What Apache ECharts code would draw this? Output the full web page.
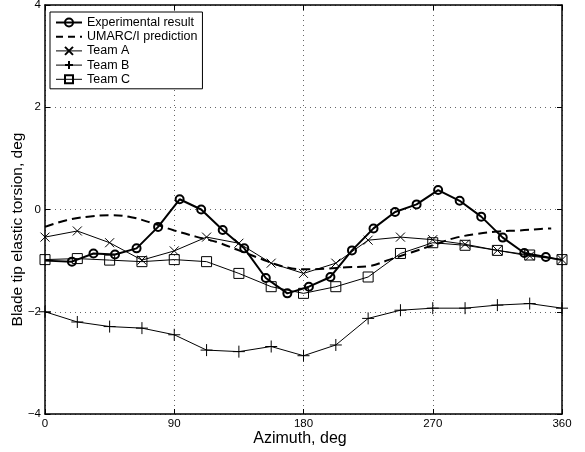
<!DOCTYPE html>
<html>
<head>
<meta charset="utf-8">
<script src="https://cdn.jsdelivr.net/npm/echarts@6/dist/echarts.min.js"></script>
<style>
  html, body { margin: 0; padding: 0; background: #fff; }
  #chart { width: 585px; height: 452px; }
</style>
</head>
<body>
<div id="chart"></div>
<script>
// Azimuth positions (deg) and elastic torsion values (deg)
var expAz = [0, 18.75, 33.75, 48.75, 63.75, 78.75, 93.75, 108.75, 123.75, 138.75, 153.75, 168.75,
             183.75, 198.75, 213.75, 228.75, 243.75, 258.75, 273.75, 288.75, 303.75, 318.75, 333.75, 348.75, 360];
var expVal = [-1.0, -1.02, -0.86, -0.88, -0.76, -0.34, 0.20, 0.0, -0.40, -0.76, -1.34, -1.64,
              -1.51, -1.32, -0.80, -0.37, -0.05, 0.10, 0.38, 0.17, -0.14, -0.55, -0.85, -0.93, -0.99];

var umarcAz = [0, 15, 30, 45, 60, 75, 90, 105, 120, 135, 150, 165, 180, 195, 210, 225, 240,
               255, 270, 285, 300, 315, 330, 345, 352.5];
var umarcVal = [-0.34, -0.21, -0.14, -0.11, -0.15, -0.27, -0.41, -0.53, -0.64, -0.80, -0.96, -1.11,
                -1.17, -1.16, -1.13, -1.11, -0.98, -0.84, -0.70, -0.56, -0.48, -0.43, -0.41, -0.38, -0.37];

var teamAz = [0, 22.5, 45, 67.5, 90, 112.5, 135, 157.5, 180, 202.5, 225, 247.5, 270, 292.5, 315, 337.5, 360];
var teamAVal = [-0.54, -0.42, -0.65, -0.99, -0.81, -0.54, -0.66, -1.05, -1.25, -1.05, -0.60,
                -0.54, -0.59, -0.68, -0.80, -0.91, -0.98];
var teamBVal = [-2.0, -2.2, -2.29, -2.32, -2.45, -2.75, -2.78, -2.68, -2.86, -2.65, -2.13,
                -1.97, -1.93, -1.93, -1.87, -1.84, -1.93];
var teamCVal = [-0.98, -0.96, -0.99, -1.02, -0.98, -1.02, -1.25, -1.51, -1.64, -1.51, -1.32,
                -0.86, -0.65, -0.70, -0.80, -0.89, -0.98];

var xTicks = [0, 90, 180, 270, 360];
var yTicks = [-4, -2, 0, 2, 4];

function pairs(xs, ys) {
  return xs.map(function (x, i) { return [x, ys[i]]; });
}

var FONT = 'Liberation Sans';
var CROSS = 'path://M0,0L10,10M10,0L0,10';
var PLUS = 'path://M5,0L5,10M0,5L10,5';
var HOLLOW = 'rgba(255,255,255,0)';

// Experimental points at the plot edges are drawn without a marker
var expData = pairs(expAz, expVal).map(function (p, i) {
  if (i === 0 || i === expAz.length - 1) {
    return { value: p, symbol: 'none' };
  }
  return p;
});

var chart = echarts.init(document.getElementById('chart'), null, { renderer: 'canvas' });

var axisCommon = {
  type: 'value',
  axisLine: { show: true, onZero: false, lineStyle: { color: '#000', width: 1.5 } },
  axisTick: { show: true, inside: true, length: 5, lineStyle: { color: '#000', width: 1 } },
  splitLine: { show: false },
  axisLabel: { show: false }
};

var gridDots = { show: true, lineStyle: { color: '#666', type: [1, 4], width: 1 } };

chart.setOption({
  animation: false,
  backgroundColor: '#fff',
  textStyle: { fontFamily: FONT },
  grid: { left: 45, right: 23, top: 5, bottom: 38, show: false, containLabel: false, outerBoundsMode: 'none' },
  legend: {
    left: 50, top: 12,
    orient: 'vertical',
    backgroundColor: '#fff',
    borderColor: '#000',
    borderWidth: 1,
    borderRadius: 0,
    padding: [4, 5, 3, 5],
    itemWidth: 26,
    itemHeight: 10,
    itemGap: 1.2,
    textStyle: { fontFamily: FONT, fontSize: 12.5, color: '#000' },
    data: [
      { name: 'Experimental result', lineStyle: { width: 2 } },
      { name: 'UMARC/I prediction', lineStyle: { width: 2, type: [7, 5] },
        itemStyle: { color: HOLLOW, borderWidth: 0, opacity: 0 } },
      { name: 'Team A', lineStyle: { width: 1 } },
      { name: 'Team B', lineStyle: { width: 1 } },
      { name: 'Team C', lineStyle: { width: 1 } }
    ]
  },
  xAxis: [
    Object.assign({}, axisCommon, {
      min: 0, max: 360, interval: 90, position: 'bottom',
      name: 'Azimuth, deg', nameLocation: 'middle', nameGap: 17, nameMoveOverlap: false,
      nameTextStyle: { fontFamily: FONT, fontSize: 16, color: '#000', padding: [0, 7, 0, 0] },
      axisLabel: {
        show: true, fontFamily: FONT, fontSize: 11.5, color: '#000', margin: 4,
        customValues: xTicks
      },
      axisTick: { show: true, inside: true, length: 5, lineStyle: { color: '#000' }, customValues: xTicks },
      splitLine: gridDots
    }),
    Object.assign({}, axisCommon, { min: 0, max: 360, interval: 90, position: 'top' })
  ],
  yAxis: [
    Object.assign({}, axisCommon, {
      min: -4, max: 4, interval: 2, position: 'left',
      name: 'Blade tip elastic torsion, deg', nameLocation: 'middle', nameGap: 19, nameMoveOverlap: false,
      nameTextStyle: { fontFamily: FONT, fontSize: 15.5, color: '#000', padding: [0, 40, 0, 0] },
      axisLabel: {
        show: true, fontFamily: FONT, fontSize: 11.5, color: '#000', margin: 4,
        customValues: yTicks,
        formatter: function (v) { return String(v).replace('-', '\u2212'); }
      },
      axisTick: { show: true, inside: true, length: 5, lineStyle: { color: '#000' }, customValues: yTicks },
      splitLine: gridDots
    }),
    Object.assign({}, axisCommon, { min: -4, max: 4, interval: 2, position: 'right' })
  ],
  series: [
    {
      name: 'Experimental result', type: 'line', data: expData,
      symbol: 'circle', symbolSize: 8,
      lineStyle: { color: '#000', width: 2 },
      itemStyle: { color: HOLLOW, borderColor: '#000', borderWidth: 2 },
      z: 2
    },
    {
      name: 'UMARC/I prediction', type: 'line', data: pairs(umarcAz, umarcVal),
      smooth: 0.4, symbol: 'none', showSymbol: false,
      lineStyle: { color: '#000', width: 2, type: [9, 5] },
      itemStyle: { color: '#000' },
      z: 3
    },
    {
      name: 'Team A', type: 'line', data: pairs(teamAz, teamAVal),
      symbol: CROSS, symbolSize: 9,
      lineStyle: { color: '#000', width: 1 },
      itemStyle: { color: HOLLOW, borderColor: '#000', borderWidth: 1 },
      z: 4
    },
    {
      name: 'Team B', type: 'line', data: pairs(teamAz, teamBVal),
      symbol: PLUS, symbolSize: 12,
      lineStyle: { color: '#000', width: 1 },
      itemStyle: { color: HOLLOW, borderColor: '#000', borderWidth: 1 },
      z: 5
    },
    {
      name: 'Team C', type: 'line', data: pairs(teamAz, teamCVal),
      symbol: 'rect', symbolSize: 10,
      lineStyle: { color: '#000', width: 1 },
      itemStyle: { color: HOLLOW, borderColor: '#000', borderWidth: 1 },
      z: 6
    }
  ]
});
</script>
</body>
</html>
